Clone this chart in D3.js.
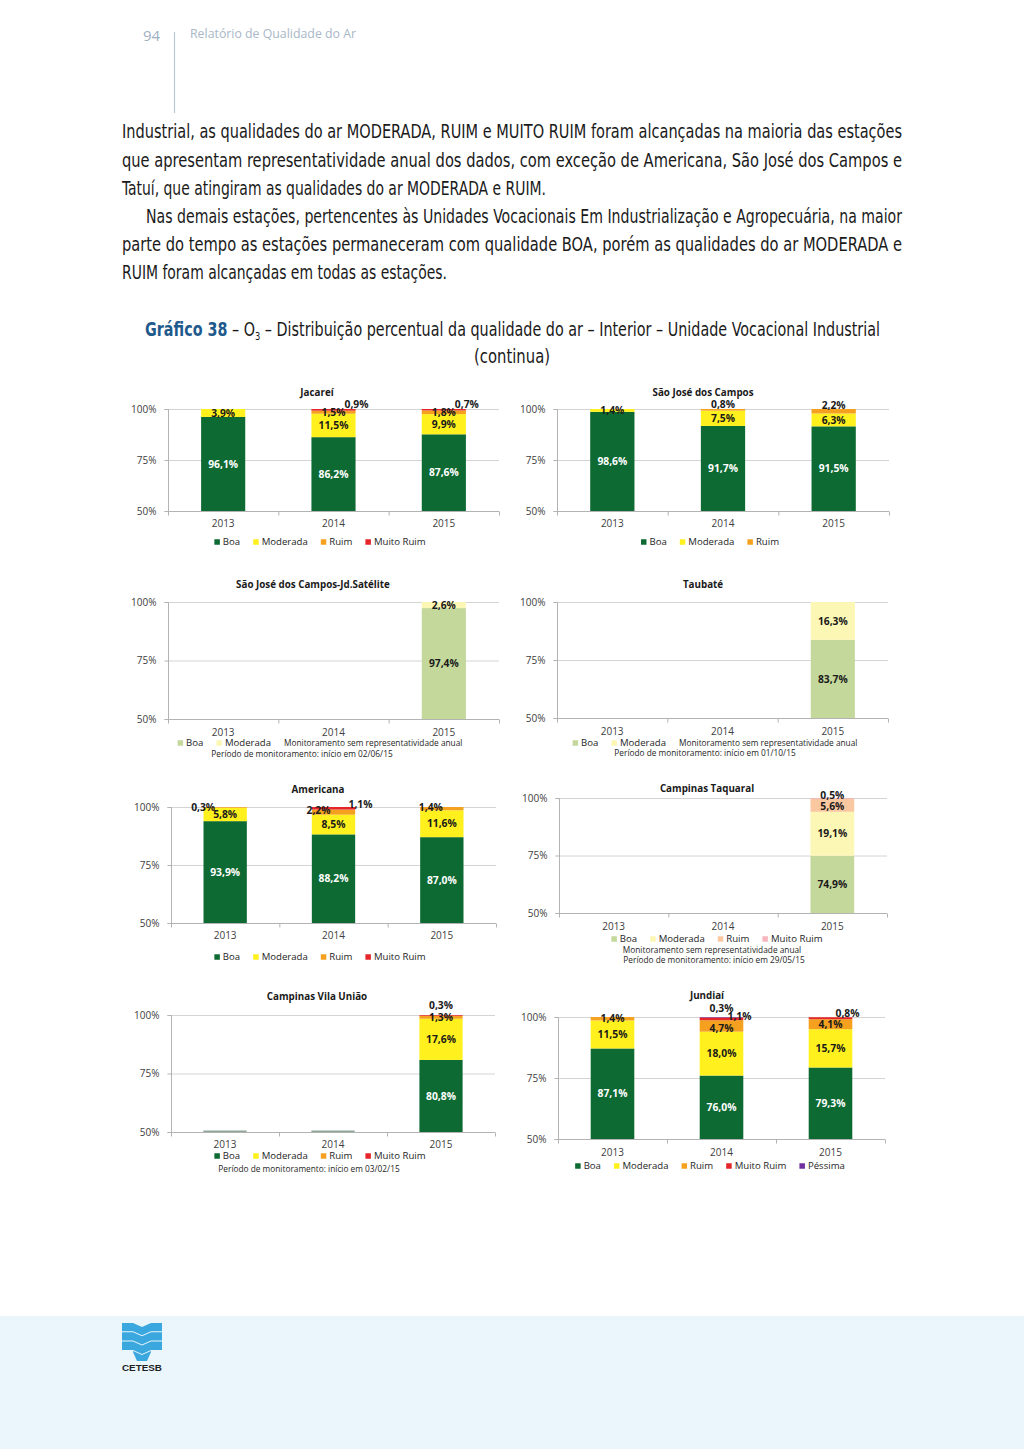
<!DOCTYPE html>
<html><head><meta charset="utf-8">
<script src="https://cdn.jsdelivr.net/npm/d3@7"></script>
<style>body{margin:0;background:#fff}svg{display:block}</style>
</head><body>
<svg id="page" width="1024" height="1449"></svg>
<script>
// ---------------- DATA ----------------
const years = ["2013", "2014", "2015"];
const seriesNames = ["Boa", "Moderada", "Ruim", "Muito Ruim", "Péssima"];
const fullColors = ["#0e6a33", "#fff01e", "#f5a11f", "#e4252a", "#7030a0"];
const lightColors = ["#c5d89c", "#fcf7b4", "#f9c8a0", "#f5b6c0", "#cdb5de"];
const yTicks = [50, 75, 100];
const yTickLabels = ["50%", "75%", "100%"];

// Jacareí
const jacareiBoa = [96.1, 86.2, 87.6];
const jacareiModerada = [3.9, 11.5, 9.9];
const jacareiRuim = [0, 1.5, 1.8];
const jacareiMuitoRuim = [0, 0.9, 0.7];
// São José dos Campos
const sjcBoa = [98.6, 91.7, 91.5];
const sjcModerada = [1.4, 7.5, 6.3];
const sjcRuim = [0, 0.8, 2.2];
// São José dos Campos-Jd.Satélite
const sateliteBoa = [null, null, 97.4];
const sateliteModerada = [null, null, 2.6];
// Taubaté
const taubateBoa = [null, null, 83.7];
const taubateModerada = [null, null, 16.3];
// Americana
const americanaBoa = [93.9, 88.2, 87.0];
const americanaModerada = [5.8, 8.5, 11.6];
const americanaRuim = [0.3, 2.2, 1.4];
const americanaMuitoRuim = [0, 1.1, 0];
// Campinas Taquaral
const taquaralBoa = [null, null, 74.9];
const taquaralModerada = [null, null, 19.1];
const taquaralRuim = [null, null, 5.6];
const taquaralMuitoRuim = [null, null, 0.5];
// Campinas Vila União
const vilaUniaoBoa = [null, null, 80.8];
const vilaUniaoModerada = [null, null, 17.6];
const vilaUniaoRuim = [null, null, 1.3];
const vilaUniaoMuitoRuim = [null, null, 0.3];
// Jundiaí
const jundiaiBoa = [87.1, 76.0, 79.3];
const jundiaiModerada = [11.5, 18.0, 15.7];
const jundiaiRuim = [1.4, 4.7, 4.1];
const jundiaiMuitoRuim = [0, 1.1, 0.8];
const jundiaiPessima = [0, 0.3, 0];

const noteSemRep = "Monitoramento sem representatividade anual";

// ---------------- LAYOUT ----------------
const charts = [
  {title: "Jacareí", series: {"Boa": jacareiBoa, "Moderada": jacareiModerada, "Ruim": jacareiRuim, "Muito Ruim": jacareiMuitoRuim},
   legend: ["Boa", "Moderada", "Ruim", "Muito Ruim"], light: false,
   x0: 168, x1: 499, yTop: 409, yBot: 511, titleX: 317, titleY: 393, yearY: 523, legendY: 542, legendCx: 320,
   nudges: {"2014|Muito Ruim": [23, -5], "2015|Muito Ruim": [23, -5]}},
  {title: "São José dos Campos", series: {"Boa": sjcBoa, "Moderada": sjcModerada, "Ruim": sjcRuim},
   legend: ["Boa", "Moderada", "Ruim"], light: false,
   x0: 557, x1: 889, yTop: 409, yBot: 511, titleX: 703, titleY: 393, yearY: 523, legendY: 542, legendCx: 710,
   nudges: {"2014|Ruim": [0, -5], "2015|Ruim": [0, -6]}},
  {title: "São José dos Campos-Jd.Satélite", series: {"Boa": sateliteBoa, "Moderada": sateliteModerada},
   legend: ["Boa", "Moderada"], inlineNote: noteSemRep, light: true,
   x0: 168, x1: 499, yTop: 602, yBot: 719, titleX: 313, titleY: 585, yearY: 732, legendY: 743, legendCx: 320,
   notes: [{text: "Período de monitoramento: início em 02/06/15", cx: 302, y: 754}], nudges: {}},
  {title: "Taubaté", series: {"Boa": taubateBoa, "Moderada": taubateModerada},
   legend: ["Boa", "Moderada"], inlineNote: noteSemRep, light: true,
   x0: 557, x1: 888, yTop: 602, yBot: 718, titleX: 703, titleY: 585, yearY: 731, legendY: 743, legendCx: 715,
   notes: [{text: "Período de monitoramento: início em 01/10/15", cx: 705, y: 753}], nudges: {}},
  {title: "Americana", series: {"Boa": americanaBoa, "Moderada": americanaModerada, "Ruim": americanaRuim, "Muito Ruim": americanaMuitoRuim},
   legend: ["Boa", "Moderada", "Ruim", "Muito Ruim"], light: false,
   x0: 171, x1: 496, yTop: 807, yBot: 923, titleX: 318, titleY: 790, yearY: 935, legendY: 957, legendCx: 320,
   nudges: {"2013|Ruim": [-22, 0], "2014|Ruim": [-15, -2], "2014|Muito Ruim": [27, -4], "2015|Ruim": [-11, -1]}},
  {title: "Campinas Taquaral", series: {"Boa": taquaralBoa, "Moderada": taquaralModerada, "Ruim": taquaralRuim, "Muito Ruim": taquaralMuitoRuim},
   legend: ["Boa", "Moderada", "Ruim", "Muito Ruim"], light: true,
   x0: 559, x1: 887, yTop: 798, yBot: 913, titleX: 707, titleY: 789, yearY: 926, legendY: 939, legendCx: 717,
   notes: [{text: noteSemRep, cx: 712, y: 950}, {text: "Período de monitoramento: início em 29/05/15", cx: 714, y: 960}],
   nudges: {"2015|Muito Ruim": [0, -3.5], "2015|Ruim": [0, 1.5]}},
  {title: "Campinas Vila União", series: {"Boa": vilaUniaoBoa, "Moderada": vilaUniaoModerada, "Ruim": vilaUniaoRuim, "Muito Ruim": vilaUniaoMuitoRuim},
   legend: ["Boa", "Moderada", "Ruim", "Muito Ruim"], light: false, emptyMarks: true,
   x0: 171, x1: 495, yTop: 1015, yBot: 1132, titleX: 317, titleY: 997, yearY: 1144, legendY: 1156, legendCx: 320,
   notes: [{text: "Período de monitoramento: início em 03/02/15", cx: 309, y: 1169}],
   nudges: {"2015|Muito Ruim": [0, -10]}},
  {title: "Jundiaí", series: {"Boa": jundiaiBoa, "Moderada": jundiaiModerada, "Ruim": jundiaiRuim, "Muito Ruim": jundiaiMuitoRuim, "Péssima": jundiaiPessima},
   legend: ["Boa", "Moderada", "Ruim", "Muito Ruim", "Péssima"], light: false,
   x0: 558, x1: 885, yTop: 1017, yBot: 1139, titleX: 707, titleY: 996, yearY: 1152, legendY: 1166, legendCx: 710,
   nudges: {"2014|Péssima": [0, -9], "2014|Muito Ruim": [18, -2], "2014|Ruim": [0, 2], "2015|Muito Ruim": [17, -5]}}
];

// justified lines have a target width; free lines (w: null) follow the scale of the last line
const bodyLines = [
  {text: "Industrial, as qualidades do ar MODERADA, RUIM e MUITO RUIM foram alcançadas na maioria das estações", x: 122, w: 780, y: 138},
  {text: "que apresentam representatividade anual dos dados, com exceção de Americana, São José dos Campos e", x: 122, w: 780, y: 166.5},
  {text: "Tatuí, que atingiram as qualidades do ar MODERADA e RUIM.", x: 122, w: null, y: 195},
  {text: "Nas demais estações, pertencentes às Unidades Vocacionais Em Industrialização e Agropecuária, na maior", x: 146, w: 756, y: 223},
  {text: "parte do tempo as estações permaneceram com qualidade BOA, porém as qualidades do ar MODERADA e", x: 122, w: 780, y: 251},
  {text: "RUIM foram alcançadas em todas as estações.", x: 122, w: 325, y: 279}
];

// ---------------- DRAW ----------------
const svg = d3.select("#page");
const CH = "'Open Sans', 'Noto Sans', sans-serif";
const COND = "'Liberation Sans Narrow', 'DejaVu Sans Condensed', 'Open Sans', sans-serif";

svg.append("rect").attr("x", 0).attr("y", 0).attr("width", 1024).attr("height", 1449).attr("fill", "#fff");

// header
svg.append("text").attr("x", 143).attr("y", 41).attr("font-family", CH).attr("font-size", 15)
  .attr("fill", "#9fb0c3").text("94");
svg.append("line").attr("x1", 174.5).attr("x2", 174.5).attr("y1", 32).attr("y2", 113)
  .attr("stroke", "#b9c6d5").attr("stroke-width", 1.2);
svg.append("text").attr("x", 190).attr("y", 37.5).attr("font-family", CH).attr("font-size", 12.5)
  .attr("fill", "#a9b7c7").attr("textLength", 166).attr("lengthAdjust", "spacingAndGlyphs")
  .text("Relatório de Qualidade do Ar");

// body text
function natural(text, size, fam) {
  const t = svg.append("text").attr("font-family", fam).attr("font-size", size).text(text);
  const w = t.node().getComputedTextLength();
  t.remove();
  return w;
}
const lastLine = bodyLines[bodyLines.length - 1];
const freeScale = lastLine.w / natural(lastLine.text, 19, COND);
bodyLines.forEach(d => { if (d.w == null) d.w = natural(d.text, 19, COND) * freeScale; });

svg.selectAll("text.body").data(bodyLines).join("text").attr("class", "body")
  .attr("x", d => d.x).attr("y", d => d.y)
  .attr("font-family", COND).attr("font-size", 19).attr("fill", "#1a1a1a")
  .attr("textLength", d => d.w).attr("lengthAdjust", "spacingAndGlyphs")
  .text(d => d.text);

// figure title
const tt = svg.append("text").attr("x", 145).attr("y", 336).attr("font-family", COND).attr("font-size", 19)
  .attr("fill", "#1a1a1a").attr("textLength", 735).attr("lengthAdjust", "spacingAndGlyphs");
tt.append("tspan").attr("fill", "#1f5a8c").attr("font-weight", 700).text("Gráfico 38");
tt.append("tspan").text(" – O");
tt.append("tspan").attr("font-size", 11).attr("dy", 4).text("3");
tt.append("tspan").attr("dy", -4).text(" – Distribuição percentual da qualidade do ar – Interior – Unidade Vocacional Industrial");
svg.append("text").attr("x", 512).attr("y", 363).attr("text-anchor", "middle").attr("font-family", COND)
  .attr("font-size", 19).attr("fill", "#1a1a1a").attr("textLength", 76).attr("lengthAdjust", "spacingAndGlyphs")
  .text("(continua)");

const fmt = v => d3.format(".1f")(v).replace(".", ",") + "%";

function measure(text, size, weight) {
  const t = svg.append("text").attr("font-family", CH).attr("font-size", size).attr("font-weight", weight || 400).text(text);
  const w = t.node().getComputedTextLength();
  t.remove();
  return w;
}

function drawChart(c) {
  const g = svg.append("g");
  const palette = c.light ? lightColors : fullColors;
  const color = d3.scaleOrdinal().domain(seriesNames).range(palette);
  const keys = Object.keys(c.series);

  const x = d3.scaleBand().domain(years).range([c.x0, c.x1]).paddingInner(0.6).paddingOuter(0.3);
  const xb = d3.scaleLinear().domain([0, years.length]).range([c.x0, c.x1]);
  const y = d3.scaleLinear().domain([50, 100]).range([c.yBot, c.yTop]).clamp(true);

  // gridlines
  g.selectAll("line.grid").data(yTicks.filter(t => t > 50)).join("line")
    .attr("x1", c.x0).attr("x2", c.x1).attr("y1", d => y(d) + 0.5).attr("y2", d => y(d) + 0.5)
    .attr("stroke", "#d4d4d4").attr("stroke-width", 1);

  // data rows
  const rows = years.map((yr, i) => {
    const r = {year: yr, has: keys.some(k => c.series[k][i] != null)};
    keys.forEach(k => r[k] = c.series[k][i] || 0);
    return r;
  });
  const stacked = d3.stack().keys(keys)(rows);

  // bars
  stacked.forEach(layer => {
    g.selectAll(null).data(layer.filter(d => d[1] - d[0] > 0)).join("rect")
      .attr("x", d => x(d.data.year)).attr("width", x.bandwidth())
      .attr("y", d => y(d[1])).attr("height", d => Math.max(0, y(d[0]) - y(d[1])))
      .attr("fill", color(layer.key));
  });

  if (c.emptyMarks) {
    g.selectAll(null).data(rows.filter(r => !r.has)).join("rect")
      .attr("x", d => x(d.year)).attr("width", x.bandwidth())
      .attr("y", y(50) - 1.5).attr("height", 2).attr("fill", "#8fa597");
  }

  // axes
  const ax = g.append("g").attr("transform", `translate(${c.x0 + 0.5},0)`)
    .call(d3.axisLeft(y).tickValues(yTicks).tickFormat((d, i) => yTickLabels[i]).tickSize(4).tickPadding(8));
  ax.select(".domain").attr("stroke", "#b3b3b3").attr("d", `M-4,${y(100) + 0.5}H0V${y(50) + 0.5}H-4`);
  ax.selectAll(".tick line").attr("stroke", "#b3b3b3");
  ax.selectAll(".tick text").attr("font-family", CH).attr("font-size", 10).attr("fill", "#404040");

  const bx = g.append("g").attr("transform", `translate(0,${y(50) + 0.5})`)
    .call(d3.axisBottom(xb).tickValues(d3.range(years.length + 1)).tickFormat("").tickSize(4));
  bx.select(".domain").attr("stroke", "#b3b3b3").attr("d", `M${c.x0},0H${c.x1}`);
  bx.selectAll(".tick line").attr("stroke", "#b3b3b3");

  g.selectAll("text.yr").data(years).join("text").attr("class", "yr")
    .attr("x", d => x(d) + x.bandwidth() / 2).attr("y", c.yearY).attr("dy", "0.35em")
    .attr("text-anchor", "middle").attr("font-family", CH).attr("font-size", 10).attr("fill", "#404040")
    .text(d => d);

  // title
  g.append("text").attr("x", c.titleX).attr("y", c.titleY).attr("dy", "0.35em").attr("text-anchor", "middle")
    .attr("font-family", CH).attr("font-size", 9.8).attr("font-weight", 700).attr("fill", "#1a1a1a").text(c.title);

  // labels
  stacked.forEach(layer => {
    layer.forEach(d => {
      const v = d.data[layer.key];
      if (!(v > 0)) return;
      const lo = Math.max(d[0], 50), hi = Math.min(d[1], 100);
      const nud = c.nudges[d.data.year + "|" + layer.key] || [0, 0];
      const dark = !c.light && layer.key === "Boa";
      g.append("text")
        .attr("x", x(d.data.year) + x.bandwidth() / 2 + nud[0])
        .attr("y", y((lo + hi) / 2) + nud[1]).attr("dy", "0.35em")
        .attr("text-anchor", "middle").attr("font-family", CH).attr("font-size", 10.3).attr("font-weight", 700)
        .attr("fill", dark ? "#ffffff" : "#1a1a1a").text(fmt(v));
    });
  });

  // legend
  const sw = 5.5, swGap = 3, itemGap = 13, lfs = 9.6, nfs = 8.3;
  const items = c.legend.map(k => ({type: "sw", key: k, w: sw + swGap + measure(k, lfs)}));
  if (c.inlineNote) items.push({type: "note", key: c.inlineNote, w: measure(c.inlineNote, nfs)});
  const total = d3.sum(items, d => d.w) + itemGap * (items.length - 1);
  let cx = c.legendCx - total / 2;
  items.forEach(it => {
    if (it.type === "sw") {
      g.append("rect").attr("x", cx).attr("y", c.legendY - sw / 2).attr("width", sw).attr("height", sw)
        .attr("fill", color(it.key));
      g.append("text").attr("x", cx + sw + swGap).attr("y", c.legendY).attr("dy", "0.35em")
        .attr("font-family", CH).attr("font-size", lfs).attr("fill", "#262626").text(it.key);
    } else {
      g.append("text").attr("x", cx).attr("y", c.legendY).attr("dy", "0.35em")
        .attr("font-family", CH).attr("font-size", nfs).attr("fill", "#262626").text(it.key);
    }
    cx += it.w + itemGap;
  });
  (c.notes || []).forEach(n => {
    g.append("text").attr("x", n.cx).attr("y", n.y).attr("dy", "0.35em").attr("text-anchor", "middle")
      .attr("font-family", CH).attr("font-size", nfs).attr("fill", "#262626").text(n.text);
  });
}

charts.forEach(drawChart);

// footer
svg.append("rect").attr("x", 0).attr("y", 1316).attr("width", 1024).attr("height", 133).attr("fill", "#ebf6fc");
const logo = svg.append("g").attr("fill", "#3aa7de");
[1323, 1332.3, 1341.6].forEach(t => {
  const pts = [[122, t], [133, t], [142, t + 4], [151, t], [162, t], [162, t + 8.3], [151, t + 8.3], [142, t + 12.3], [133, t + 8.3], [122, t + 8.3]];
  logo.append("polygon").attr("points", pts.map(p => p.join(",")).join(" "));
});
logo.append("polygon").attr("points", [[133, 1350.9], [142, 1354.9], [151, 1350.9], [151, 1352], [147, 1361], [137, 1361], [133, 1352]].map(p => p.join(",")).join(" "));
svg.append("text").attr("x", 142).attr("y", 1371).attr("text-anchor", "middle")
  .attr("font-family", "'Liberation Sans', Arial, sans-serif").attr("font-weight", 700).attr("font-size", 9.5)
  .attr("fill", "#1f1f1f").attr("textLength", 40).attr("lengthAdjust", "spacingAndGlyphs").text("CETESB");
</script>
</body></html>
